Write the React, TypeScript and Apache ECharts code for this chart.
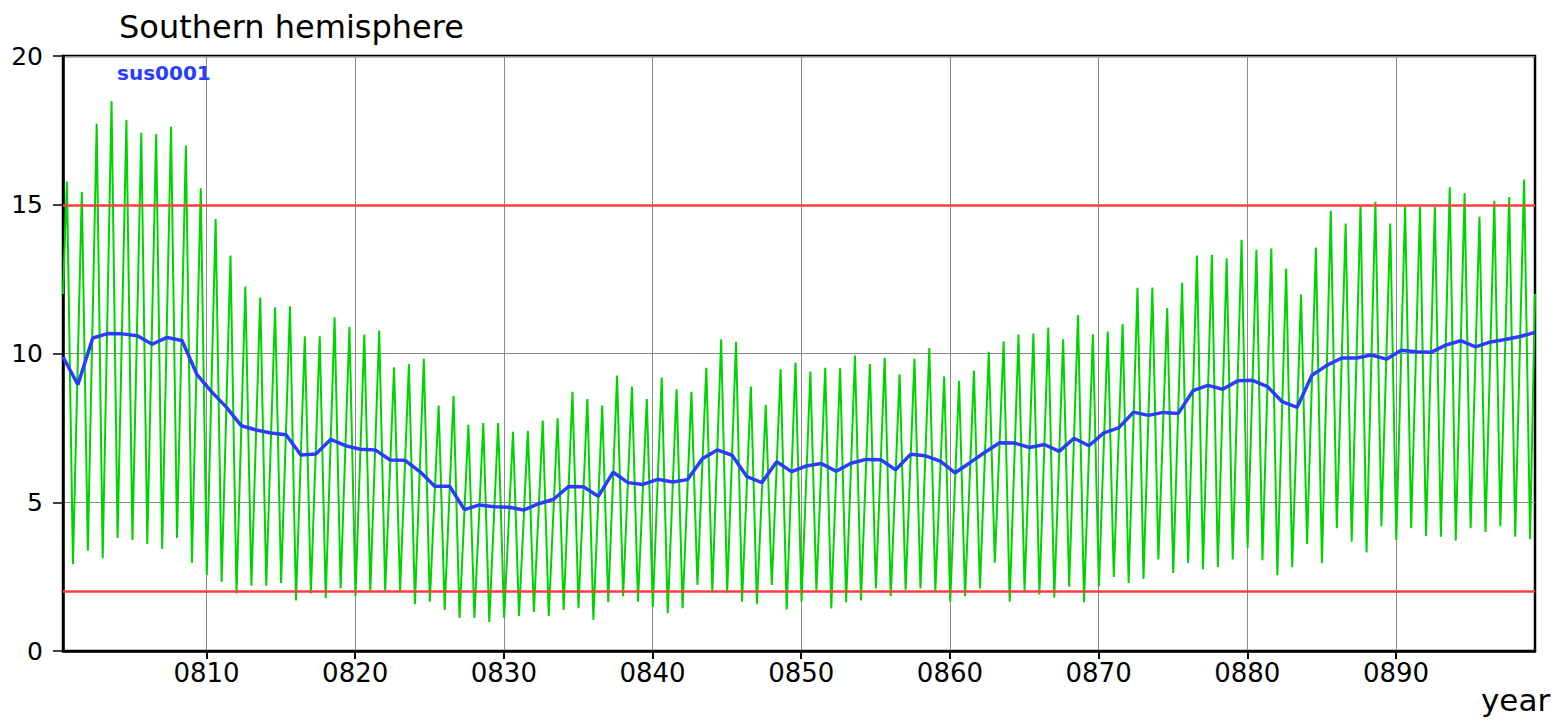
import { useEffect, useRef } from 'react';
import * as echarts from 'echarts';

const FONT = 'DejaVu Sans';

// Time axis (fractional years)
const firstYear = 800;
const xMin = 800.35;
const xMax = 899.35;
const meanOffset = 0.35; // position of annual mean inside the year
const peakOffset = 0.615; // September maximum
const troughOffset = 1.02; // February minimum of the following year

const decadeTicks = [810, 820, 830, 840, 850, 860, 870, 880, 890];
const thresholds = [2, 15];
const legendName = 'sus0001';

// Annual means (blue), years 800..899
const annualMean = [
  9.89, 8.95, 10.52, 10.67, 10.66, 10.6, 10.31, 10.54, 10.44, 9.3,
  8.71, 8.19, 7.57, 7.43, 7.33, 7.27, 6.59, 6.62, 7.11, 6.9,
  6.78, 6.76, 6.42, 6.41, 6.03, 5.54, 5.54, 4.75, 4.91, 4.85,
  4.83, 4.74, 4.95, 5.1, 5.53, 5.52, 5.2, 6.01, 5.66, 5.6,
  5.77, 5.68, 5.76, 6.46, 6.76, 6.58, 5.86, 5.66, 6.36, 6.03,
  6.22, 6.3, 6.04, 6.31, 6.44, 6.43, 6.09, 6.61, 6.56, 6.38,
  5.99, 6.33, 6.68, 7.0, 6.99, 6.84, 6.94, 6.71, 7.15, 6.9,
  7.33, 7.5, 8.03, 7.92, 8.02, 7.98, 8.75, 8.93, 8.8, 9.08,
  9.1, 8.89, 8.38, 8.19, 9.27, 9.6, 9.85, 9.85, 9.95, 9.81,
  10.11, 10.06, 10.04, 10.28, 10.43, 10.22, 10.39, 10.47, 10.57, 10.71,
];

// Monthly series (green): yearly maxima, years 800..898
const septPeak = [
  15.78, 15.43, 17.72, 18.49, 17.85, 17.42, 17.38, 17.62, 16.99, 15.55,
  14.52, 13.29, 12.25, 11.88, 11.55, 11.59, 10.58, 10.58, 11.22, 10.9,
  10.64, 10.77, 9.54, 9.65, 9.82, 8.25, 8.58, 7.6, 7.66, 7.66,
  7.37, 7.4, 7.75, 7.82, 8.71, 8.47, 8.25, 9.26, 8.89, 8.47,
  9.19, 8.8, 8.71, 9.52, 10.48, 10.39, 8.89, 8.28, 9.47, 9.7,
  9.39, 9.52, 9.5, 9.93, 9.65, 9.86, 9.3, 9.82, 10.18, 9.23,
  9.08, 9.43, 10.06, 10.41, 10.64, 10.67, 10.87, 10.48, 11.29, 10.65,
  10.74, 11.0, 12.21, 12.22, 11.53, 12.38, 13.29, 13.32, 13.2, 13.82,
  13.49, 13.53, 12.86, 11.98, 13.56, 14.8, 14.37, 15.0, 15.1, 14.37,
  14.96, 14.93, 14.93, 15.59, 15.39, 14.6, 15.13, 15.26, 15.85,
];

// Monthly series (green): yearly minima, Feb of years 801..899
const febTrough = [
  2.92, 3.37, 3.12, 3.8, 3.73, 3.6, 3.43, 3.8, 2.97, 2.55,
  2.32, 1.93, 2.19, 2.19, 2.29, 1.7, 1.93, 1.77, 2.1, 1.84,
  2.03, 2.03, 2.03, 1.57, 1.66, 1.38, 1.11, 1.11, 0.98, 1.11,
  1.18, 1.31, 1.18, 1.38, 1.44, 1.05, 1.64, 1.84, 1.66, 1.48,
  1.27, 1.44, 2.22, 1.96, 1.96, 1.66, 1.57, 2.22, 1.4, 1.66,
  2.03, 1.43, 1.64, 1.7, 2.1, 1.84, 2.06, 2.1, 2.03, 1.66,
  1.84, 2.1, 2.97, 1.66, 2.03, 1.9, 1.8, 2.16, 1.64, 2.16,
  2.49, 2.29, 2.42, 3.08, 2.62, 2.95, 2.75, 2.82, 3.08, 3.47,
  3.05, 2.55, 2.82, 3.6, 2.95, 4.13, 3.67, 3.31, 4.19, 3.73,
  4.13, 3.87, 3.84, 3.71, 4.13, 4.0, 4.19, 3.84, 3.76,
];

// Green values at the left and right edges of the time window
const edgeValues = [12.0, 12.0];

export default function App() {
  const ref = useRef<HTMLDivElement>(null);

  useEffect(() => {
    if (!ref.current) return;
    const chart = echarts.init(ref.current, null, { renderer: 'svg' });

    const green: [number, number][] = [[xMin, edgeValues[0]]];
    for (let k = 0; k < septPeak.length; k++) {
      green.push([firstYear + k + peakOffset, septPeak[k]]);
      green.push([firstYear + k + troughOffset, febTrough[k]]);
    }
    green.push([xMax, edgeValues[1]]);

    const blue = annualMean.map((v, k) => [firstYear + k + meanOffset, v]);

    chart.setOption({
      animation: false,
      backgroundColor: '#ffffff',
      title: {
        text: 'Southern hemisphere',
        left: 114,
        top: 6,
        textStyle: { fontFamily: FONT, fontSize: 32, fontWeight: 'normal', color: '#000' },
      },
      grid: {
        left: 63,
        right: 23,
        top: 56,
        bottom: 73,
        show: true,
        borderColor: '#000',
        borderWidth: 2.5,
        backgroundColor: '#fff',
      },
      xAxis: {
        type: 'value',
        min: xMin,
        max: xMax,
        axisLine: { show: true, onZero: false, lineStyle: { color: '#000', width: 2.5 } },
        axisTick: { show: true, customValues: decadeTicks, length: 8, lineStyle: { color: '#000', width: 2 } },
        axisLabel: {
          customValues: decadeTicks,
          formatter: (v: number) => String(Math.round(v)).padStart(4, '0'),
          fontFamily: FONT,
          fontSize: 26,
          color: '#000',
          margin: 9,
        },
        splitLine: { show: true, lineStyle: { color: '#8a8a8a', width: 1 } },
      },
      yAxis: {
        type: 'value',
        min: 0,
        max: 20,
        interval: 5,
        axisLine: { show: true, lineStyle: { color: '#000', width: 2.5 } },
        axisTick: { show: true, length: 10, lineStyle: { color: '#000', width: 1.5 } },
        axisLabel: { fontFamily: FONT, fontSize: 25, color: '#000', margin: 20 },
        splitLine: { show: true, lineStyle: { color: '#8a8a8a', width: 1 } },
      },
      graphic: [
        {
          type: 'text',
          left: 117,
          top: 63,
          z: 10,
          style: { text: legendName, fill: '#2a3cff', font: `bold 20px "${FONT}"` },
        },
        {
          type: 'text',
          left: 1481,
          top: 684,
          z: 10,
          style: { text: 'year', fill: '#000', font: `31px "${FONT}"` },
        },
      ],
      series: [
        {
          type: 'line',
          name: 'monthly',
          data: green,
          showSymbol: false,
          symbol: 'none',
          z: 2,
          lineStyle: { color: '#00d400', width: 2 },
        },
        {
          type: 'line',
          name: legendName,
          data: blue,
          showSymbol: false,
          symbol: 'none',
          z: 4,
          lineStyle: { color: '#2a3cff', width: 3.5 },
          markLine: {
            silent: true,
            symbol: 'none',
            label: { show: false },
            lineStyle: { color: '#ff3f3f', width: 2.5, type: 'solid' },
            data: thresholds.map((t) => ({ yAxis: t })),
          },
        },
      ],
    });

    return () => chart.dispose();
  }, []);

  return (
    <div
      ref={ref}
      style={{ position: 'absolute', left: 0, top: 0, width: 1558, height: 724, background: '#fff' }}
    />
  );
}
